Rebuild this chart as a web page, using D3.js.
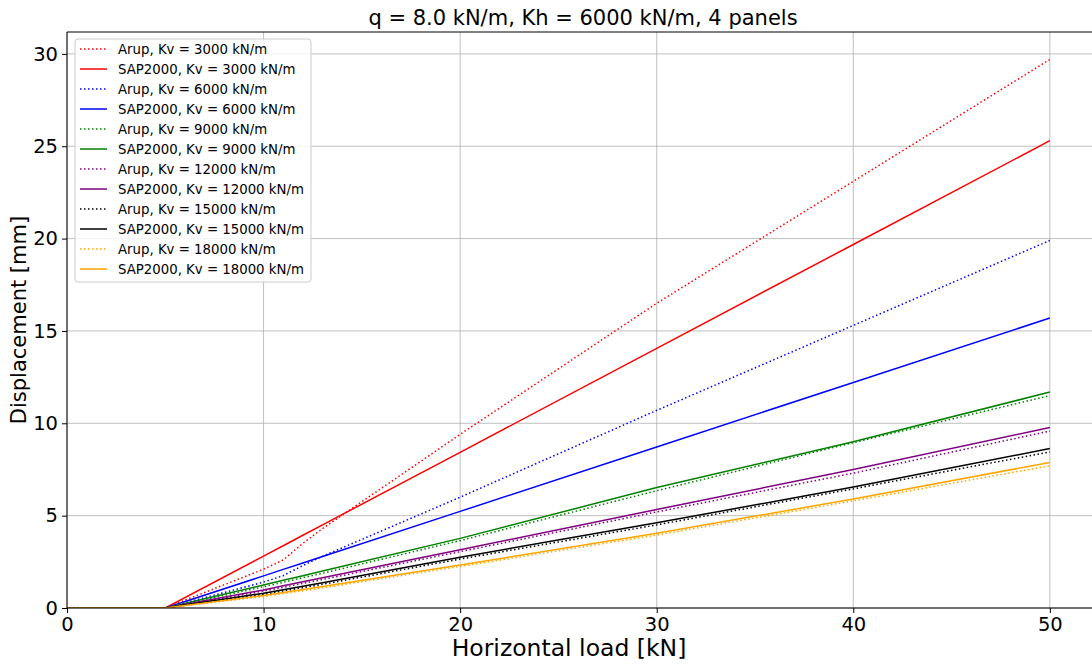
<!DOCTYPE html>
<html>
<head>
<meta charset="utf-8">
<script src="https://cdn.jsdelivr.net/npm/d3@7"></script>
<style>
  body { margin: 0; background: #fff; }
  svg { display: block; font-family: "DejaVu Sans", sans-serif; }
  .grid line { stroke: #b0b0b0; stroke-width: 0.8; }
  .axis path, .axis line { stroke: #000; stroke-width: 1; }
  .axis text { font-size: 19.5px; fill: #000; font-family: "DejaVu Sans", sans-serif; }
</style>
</head>
<body>
<div id="chart"></div>
<script>
// breakpoints of horizontal load [kN]
var loads = [0, 5, 10, 11, 12, 13, 20, 30, 40, 50];

// Arup displacements [mm]
var arup3000  = [0, 0, 2.1, 2.6, 3.5, 4.3, 9.4, 16.5, 23.1, 29.7];
var arup6000  = [0, 0, 1.4, 1.75, 2.3, 2.8, 6.0, 10.7, 15.3, 19.9];
var arup9000  = [0, 0, 1.15, 1.39, 1.64, 1.88, 3.65, 6.35, 8.95, 11.5];
var arup12000 = [0, 0, 0.92, 1.12, 1.33, 1.54, 3.05, 5.2, 7.3, 9.58];
var arup15000 = [0, 0, 0.74, 0.92, 1.1, 1.28, 2.65, 4.5, 6.45, 8.45];
var arup18000 = [0, 0, 0.62, 0.78, 0.93, 1.09, 2.25, 3.95, 5.8, 7.7];

// SAP2000 displacements [mm]
var sap3000  = [0, 0, 2.81, 3.37, 3.94, 4.5, 8.43, 14.06, 19.68, 25.3];
var sap6000  = [0, 0, 1.74, 2.09, 2.44, 2.79, 5.23, 8.72, 12.21, 15.7];
var sap9000  = [0, 0, 1.25, 1.5, 1.75, 2.0, 3.77, 6.52, 9.0, 11.69];
var sap12000 = [0, 0, 0.98, 1.2, 1.42, 1.64, 3.15, 5.33, 7.5, 9.77];
var sap15000 = [0, 0, 0.8, 0.99, 1.18, 1.37, 2.75, 4.61, 6.55, 8.63];
var sap18000 = [0, 0, 0.68, 0.84, 1.0, 1.16, 2.33, 4.05, 5.9, 7.88];

var kvLabels = ["3000", "6000", "9000", "12000", "15000", "18000"];
var colors = ["#ff0000", "#0000ff", "#008000", "#800080", "#000000", "#ffa500"];
var arupSeries = [arup3000, arup6000, arup9000, arup12000, arup15000, arup18000];
var sapSeries = [sap3000, sap6000, sap9000, sap12000, sap15000, sap18000];

var xTicks = [0, 10, 20, 30, 40, 50];
var yTicks = [0, 5, 10, 15, 20, 25, 30];

var W = 1092, H = 665;
var margin = { top: 32, left: 67, right: -7, bottom: 57 };
var width = W - margin.left - margin.right,
    height = H - margin.top - margin.bottom;

var svg = d3.select("#chart").append("svg")
    .attr("width", W).attr("height", H);

var g = svg.append("g")
    .attr("transform", "translate(" + margin.left + "," + margin.top + ")");

var xScale = d3.scaleLinear().domain([0, 52.5]).range([0, width]);
var yScale = d3.scaleLinear().domain([0, 29.7 * 1.05]).range([height, 0]);

svg.append("defs").append("clipPath").attr("id", "clip")
  .append("rect").attr("width", width).attr("height", height);

// grid
g.append("g").attr("class", "grid")
  .selectAll("line.vx").data(xTicks).enter().append("line")
  .attr("x1", d => xScale(d)).attr("x2", d => xScale(d))
  .attr("y1", 0).attr("y2", height);
g.append("g").attr("class", "grid")
  .selectAll("line.hy").data(yTicks).enter().append("line")
  .attr("y1", d => yScale(d)).attr("y2", d => yScale(d))
  .attr("x1", 0).attr("x2", width);

// series in legend order
var series = [];
kvLabels.forEach(function(kv, i) {
  series.push({ name: "Arup, Kv = " + kv + " kN/m", values: arupSeries[i], color: colors[i], dotted: true });
  series.push({ name: "SAP2000, Kv = " + kv + " kN/m", values: sapSeries[i], color: colors[i], dotted: false });
});

var line = d3.line()
  .x(function(d, i) { return xScale(loads[i]); })
  .y(function(d) { return yScale(d); });

g.append("g").attr("clip-path", "url(#clip)")
  .selectAll("path").data(series).enter().append("path")
  .attr("d", d => line(d.values))
  .attr("fill", "none")
  .attr("stroke", d => d.color)
  .attr("stroke-width", 1.5)
  .attr("stroke-dasharray", d => d.dotted ? "1.5,2.5" : null);

// axes
var xAxis = d3.axisBottom(xScale).tickValues(xTicks).tickSize(5).tickPadding(4);
g.append("g").attr("class", "axis x-axis")
  .attr("transform", "translate(0," + height + ")")
  .call(xAxis)
  .call(s => s.select(".domain").remove());

var yAxis = d3.axisLeft(yScale).tickValues(yTicks).tickSize(5).tickPadding(4);
g.append("g").attr("class", "axis y-axis")
  .call(yAxis)
  .call(s => s.select(".domain").remove());

// spines
g.append("line").attr("x1", 0).attr("x2", 0).attr("y1", 0).attr("y2", height)
  .attr("stroke", "#000").attr("stroke-width", 1);
g.append("line").attr("x1", 0).attr("x2", width).attr("y1", height).attr("y2", height)
  .attr("stroke", "#000").attr("stroke-width", 1);
g.append("line").attr("x1", 0).attr("x2", width).attr("y1", 0).attr("y2", 0)
  .attr("stroke", "#000").attr("stroke-width", 1);

// title & labels
svg.append("text")
  .attr("x", margin.left + width / 2).attr("y", 25)
  .attr("text-anchor", "middle")
  .style("font-size", "21px")
  .text("q = 8.0 kN/m, Kh = 6000 kN/m, 4 panels");

svg.append("text")
  .attr("x", 569).attr("y", 656)
  .attr("text-anchor", "middle")
  .style("font-size", "23.5px")
  .text("Horizontal load [kN]");

svg.append("text")
  .attr("transform", "translate(26," + (margin.top + height / 2) + ") rotate(-90)")
  .attr("text-anchor", "middle")
  .style("font-size", "21px")
  .text("Displacement [mm]");

// legend
var legend = g.append("g").attr("transform", "translate(8,7)");
legend.append("rect")
  .attr("width", 236).attr("height", 243)
  .attr("rx", 3)
  .attr("fill", "#fff").attr("fill-opacity", 0.8)
  .attr("stroke", "#cccccc").attr("stroke-width", 1);

var item = legend.selectAll("g.item").data(series).enter().append("g")
  .attr("class", "item")
  .attr("transform", (d, i) => "translate(0," + (10 + i * 20) + ")");

item.append("line")
  .attr("x1", 5).attr("x2", 32)
  .attr("y1", 0).attr("y2", 0)
  .attr("stroke", d => d.color)
  .attr("stroke-width", 1.5)
  .attr("stroke-dasharray", d => d.dotted ? "1.5,2.5" : null);

item.append("text")
  .attr("x", 43).attr("y", 0)
  .attr("dy", "0.35em")
  .style("font-size", "13.3px")
  .text(d => d.name);
</script>
</body>
</html>
